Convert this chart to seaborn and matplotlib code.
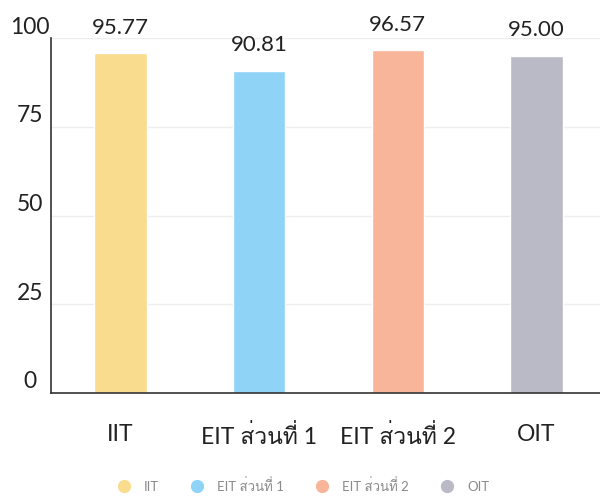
import numpy as np
import matplotlib
matplotlib.use("Agg")
import matplotlib.pyplot as plt
import matplotlib.transforms as mtransforms
from matplotlib import font_manager
from matplotlib.ft2font import FT2Font
from matplotlib.lines import Line2D
import seaborn as sns

categories = ["IIT", "EIT ส่วนที่ 1", "EIT ส่วนที่ 2", "OIT"]
scores = [95.77, 90.81, 96.57, 95.00]
bar_colors = ["#F9DC8E", "#8FD3F7", "#F9B59A", "#B9BAC6"]
y_ticks = [0, 25, 50, 75, 100]

# find a font that has Thai glyphs
thai_font = None
for f in font_manager.fontManager.ttflist:
    try:
        if 0x0E2A in FT2Font(f.fname).get_charmap():
            thai_font = f.name
            break
    except Exception:
        pass

sns.set_style("white")
families = ["Lato"]
if thai_font:
    families.append(thai_font)
families.append("DejaVu Sans")
plt.rcParams["font.family"] = families

fig = plt.figure(figsize=(6, 4.97), dpi=100)
ax = fig.add_axes([51 / 600, 104 / 497, 555 / 600, 355 / 497])

sns.barplot(x=categories, y=scores, hue=categories, palette=bar_colors,
            width=0.38, legend=False, ax=ax, saturation=1)

ax.set_xlim(-0.5, 3.5)
ax.set_ylim(0, 100)
ax.set_yticks(y_ticks)
ax.yaxis.grid(True, color="#EEEEEE", linewidth=1)
ax.set_axisbelow(True)
sns.despine(ax=ax, top=True, right=True)
for s in ["left", "bottom"]:
    ax.spines[s].set_color("#333333")
    ax.spines[s].set_linewidth(1.2)

ax.tick_params(axis="y", length=0, pad=15, labelsize=16.5, labelcolor="#222222")
ax.tick_params(axis="x", length=0, pad=22, labelsize=16.5, labelcolor="#222222")
offset = mtransforms.ScaledTranslation(0, 0.13, fig.dpi_scale_trans)
for lab in ax.get_yticklabels():
    lab.set_horizontalalignment("center")
    lab.set_transform(lab.get_transform() + offset)

for i, v in enumerate(scores):
    ax.annotate(f"{v:.2f}", (i, v), xytext=(0, 11), textcoords="offset points",
                ha="center", va="bottom", fontsize=16, color="#222222",
                annotation_clip=False)

handles = [Line2D([], [], marker="o", linestyle="", markersize=8.5,
                  markerfacecolor=c, markeredgecolor=c) for c in bar_colors]
fig.legend(handles, categories, loc="lower center", bbox_to_anchor=(0.5, -0.015),
           ncol=4, frameon=False, fontsize=9.5, labelcolor="#8A8A8A",
           handletextpad=0.5, columnspacing=1.9)

fig.savefig("out.png", dpi=100)
